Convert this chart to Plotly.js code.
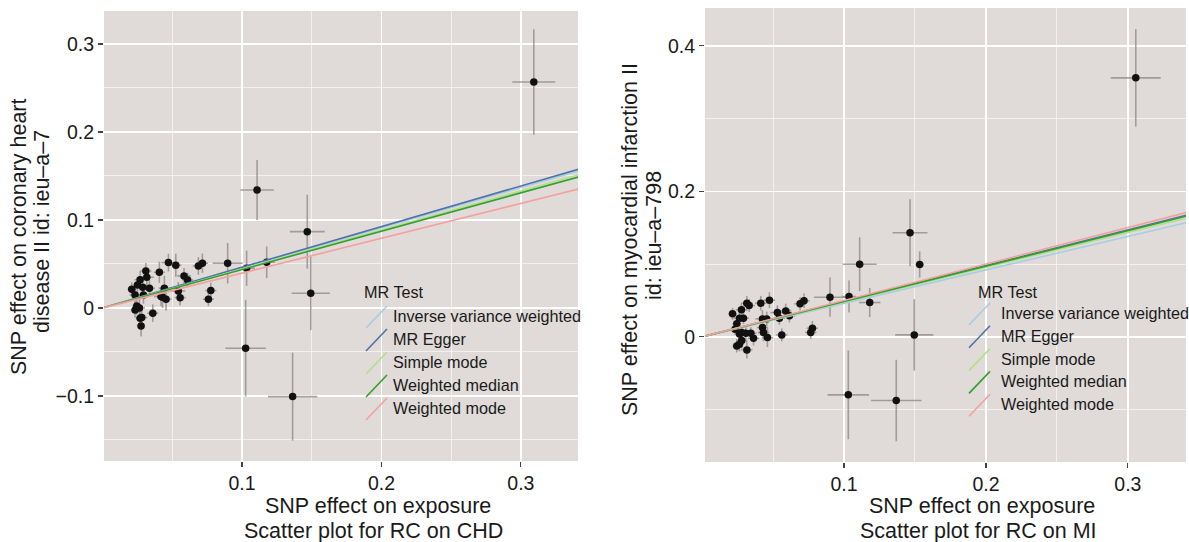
<!DOCTYPE html>
<html>
<head>
<meta charset="utf-8">
<script src="https://cdn.plot.ly/plotly-3.0.1.min.js"></script>
<style>html,body{margin:0;padding:0;background:#fff;}#chart{width:1189px;height:542px;}</style>
</head>
<body>
<div id="chart"></div>
<script>
// ---------- data ----------
var methods = ["Inverse variance weighted", "MR Egger", "Simple mode", "Weighted median", "Weighted mode"];
var methodColors = ["#a6cee3", "#4f72a8", "#b2df8a", "#33a02c", "#f4a09f"];

// CHD panel
var chdX  = [0.0209,0.0233,0.0250,0.0269,0.0310,0.0317,0.0288,0.0336,0.0233,0.0245,0.0264,0.0269,0.0281,0.0276,0.0360,0.0407,0.0472,0.0525,0.0443,0.0419,0.0430,0.0455,0.0543,0.0556,0.0584,0.0610,0.0687,0.0716,0.0776,0.0759,0.0897,0.1033,0.1177,0.1468,0.1493,0.1026,0.1363,0.1108,0.3093,0.0293];
var chdY  = [0.0212,0.0148,0.0260,0.0320,0.0420,0.0349,0.0235,0.0224,-0.0023,0.0023,0.0000,-0.0117,-0.0110,-0.0205,-0.0060,0.0405,0.0515,0.0485,0.0224,0.0129,0.0120,0.0099,0.0193,0.0117,0.0364,0.0318,0.0477,0.0508,0.0197,0.0099,0.0508,0.0451,0.0519,0.0867,0.0167,-0.0458,-0.1008,0.1340,0.2568,0.0148];
var chdSeX = [0.003,0.004,0.003,0.004,0.004,0.005,0.004,0.004,0.003,0.003,0.004,0.003,0.004,0.003,0.004,0.004,0.005,0.004,0.004,0.005,0.004,0.004,0.005,0.004,0.005,0.004,0.004,0.004,0.004,0.004,0.0107,0.006,0.006,0.0125,0.0137,0.0145,0.0177,0.0120,0.0154,0.004];
var chdSeY = [0.008,0.010,0.009,0.010,0.009,0.011,0.010,0.009,0.009,0.010,0.011,0.010,0.009,0.012,0.010,0.012,0.010,0.013,0.014,0.011,0.012,0.013,0.010,0.009,0.009,0.008,0.010,0.011,0.009,0.008,0.023,0.020,0.018,0.042,0.042,0.055,0.050,0.034,0.060,0.010];
var chdSlopes = [0.456, 0.462, 0.443, 0.436, 0.396];
var chdIntercepts = [0, 0, 0, 0, 0];

// MI panel
var miX  = [0.0214,0.0244,0.0263,0.0277,0.0291,0.0315,0.0331,0.0232,0.0263,0.0279,0.0308,0.0343,0.0362,0.0244,0.0263,0.0279,0.0315,0.0413,0.0474,0.0425,0.0455,0.0425,0.0432,0.0460,0.0530,0.0544,0.0589,0.0615,0.0561,0.0690,0.0718,0.0765,0.0777,0.0901,0.1035,0.1110,0.1181,0.1533,0.1495,0.1030,0.1368,0.1465,0.3056];
var miY  = [0.0316,0.0179,0.0257,0.0371,0.0257,0.0463,0.0430,0.0105,0.0041,0.0060,0.0051,0.0051,-0.0018,-0.0124,-0.0101,-0.0050,-0.0179,0.0463,0.0504,0.0247,0.0247,0.0128,0.0060,-0.0010,0.0334,0.0257,0.0357,0.0289,0.0027,0.0454,0.0495,0.0060,0.0119,0.0545,0.0554,0.0999,0.0472,0.0994,0.0027,-0.0797,-0.0875,0.1430,0.3560];
var miSeX = [0.003,0.003,0.004,0.004,0.004,0.004,0.004,0.003,0.003,0.004,0.004,0.004,0.004,0.003,0.003,0.004,0.004,0.004,0.004,0.005,0.005,0.004,0.004,0.004,0.005,0.004,0.004,0.004,0.004,0.004,0.004,0.004,0.004,0.0113,0.005,0.0120,0.0076,0.003,0.0135,0.0146,0.0178,0.0123,0.0176];
var miSeY = [0.008,0.009,0.008,0.009,0.008,0.010,0.009,0.008,0.009,0.008,0.009,0.008,0.010,0.009,0.010,0.011,0.012,0.010,0.011,0.012,0.010,0.011,0.012,0.013,0.010,0.009,0.010,0.009,0.009,0.009,0.010,0.009,0.010,0.027,0.022,0.037,0.020,0.018,0.049,0.061,0.056,0.046,0.067];
var miSlopes = [0.460, 0.490, 0.478, 0.486, 0.501];
var miIntercepts = [0, 0, 0, 0, 0];

var xTitle = "SNP effect on exposure";
var chdYTitle = ["SNP effect on coronary heart", "disease II id: ieu–a–7"];
var miYTitle = ["SNP effect on myocardial infarction II", "id: ieu–a–798"];
var chdTitle = "Scatter plot for RC on CHD";
var miTitle = "Scatter plot for RC on MI";
var legendTitle = "MR Test";

// ---------- layout helpers ----------
var W = 1189, H = 542;
function PX(p){ return p / W; }
function PY(p){ return 1 - p / H; }
var FONT = "Liberation Sans, Arial, Helvetica, sans-serif";
var panelBg = "#e0dad8";
var errColor = "rgba(140,134,132,0.75)";
var TITLE_SIZE = 21.5, TICK_SIZE = 19.5, LEG_SIZE = 16.2;

var traces = [];
function addPanel(xs, ys, sx, sy, slopes, ints, xa, ya) {
  traces.push({
    type: "scatter", mode: "markers", x: xs, y: ys, xaxis: xa, yaxis: ya,
    marker: {color: "#111", size: 7.5},
    error_x: {type: "data", array: sx, visible: true, color: errColor, thickness: 1.6, width: 0},
    error_y: {type: "data", array: sy, visible: true, color: errColor, thickness: 1.6, width: 0},
    showlegend: false, hoverinfo: "skip"
  });
  for (var i = 0; i < methods.length; i++) {
    var lx = [0, 0.36];
    traces.push({
      type: "scatter", mode: "lines", name: methods[i], xaxis: xa, yaxis: ya,
      x: lx, y: lx.map(function(v){ return ints[i] + slopes[i] * v; }),
      line: {color: methodColors[i], width: 1.6},
      showlegend: false, hoverinfo: "skip"
    });
  }
}
addPanel(chdX, chdY, chdSeX, chdSeY, chdSlopes, chdIntercepts, "x", "y");
addPanel(miX, miY, miSeX, miSeY, miSlopes, miIntercepts, "x2", "y2");

function axisBase(range, dtick, minorDtick) {
  return {
    range: range, dtick: dtick, tick0: 0,
    showgrid: true, gridcolor: "#ffffff", gridwidth: 1.6,
    minor: {dtick: minorDtick, tick0: 0, showgrid: true, gridcolor: "rgba(255,255,255,0.75)", gridwidth: 0.8},
    zeroline: false, showline: false,
    ticks: "outside", ticklen: 5, tickwidth: 1.2, tickcolor: "#444",
    tickfont: {family: FONT, size: TICK_SIZE, color: "#1a1a1a"},
    fixedrange: true
  };
}

var xa1 = axisBase([0.001, 0.341], 0.1, 0.05); xa1.domain = [PX(104), PX(578)]; xa1.anchor = "y";
var ya1 = axisBase([-0.174, 0.3375], 0.1, 0.05); ya1.domain = [PY(461), PY(11)]; ya1.anchor = "x";
var xa2 = axisBase([0.002, 0.341], 0.1, 0.05); xa2.domain = [PX(705), PX(1186)]; xa2.anchor = "y2";
var ya2 = axisBase([-0.172, 0.452], 0.2, 0.1); ya2.domain = [PY(462), PY(8)]; ya2.anchor = "x2";

var annotations = [];
var shapes = [];
function ann(text, x, y, size, opts) {
  var a = {text: text, x: PX(x), y: PY(y), xref: "paper", yref: "paper", showarrow: false,
           xanchor: "center", yanchor: "middle", font: {family: FONT, size: size, color: "#1a1a1a"}};
  for (var k in (opts || {})) a[k] = opts[k];
  annotations.push(a);
}
// axis titles & plot titles
ann(xTitle, 378, 506, TITLE_SIZE);
ann(chdTitle, 373, 531, TITLE_SIZE);
ann(xTitle, 982, 506, TITLE_SIZE);
ann(miTitle, 979, 531, TITLE_SIZE);
ann(chdYTitle[0], 19, 237, TITLE_SIZE, {textangle: -90});
ann(chdYTitle[1], 42, 232, TITLE_SIZE, {textangle: -90});
ann(miYTitle[0], 630, 240, TITLE_SIZE, {textangle: -90});
ann(miYTitle[1], 654, 236, TITLE_SIZE, {textangle: -90});

// custom legends (diagonal key glyphs like ggplot abline)
function legend(titleX, titleY, textX, rowY0, glyphX0, rowGap) {
  ann(legendTitle, titleX, titleY, LEG_SIZE, {xanchor: "left"});
  for (var i = 0; i < methods.length; i++) {
    var yc = rowY0 + i * rowGap;
    ann(methods[i], textX, yc, LEG_SIZE, {xanchor: "left"});
    shapes.push({type: "line", xref: "paper", yref: "paper",
      x0: PX(glyphX0), y0: PY(yc + 12), x1: PX(glyphX0 + 21), y1: PY(yc - 10),
      line: {color: methodColors[i], width: 1.6}});
  }
}
legend(362, 292, 391, 316, 366, 23);
legend(976, 292, 999, 313, 969, 22.8);

var layout = {
  width: W, height: H,
  margin: {l: 0, r: 0, t: 0, b: 0},
  paper_bgcolor: "#ffffff",
  plot_bgcolor: panelBg,
  xaxis: xa1, yaxis: ya1, xaxis2: xa2, yaxis2: ya2,
  annotations: annotations, shapes: shapes,
  showlegend: false,
  font: {family: FONT, color: "#1a1a1a"}
};

Plotly.newPlot("chart", traces, layout, {staticPlot: true, displayModeBar: false});
</script>
</body>
</html>
